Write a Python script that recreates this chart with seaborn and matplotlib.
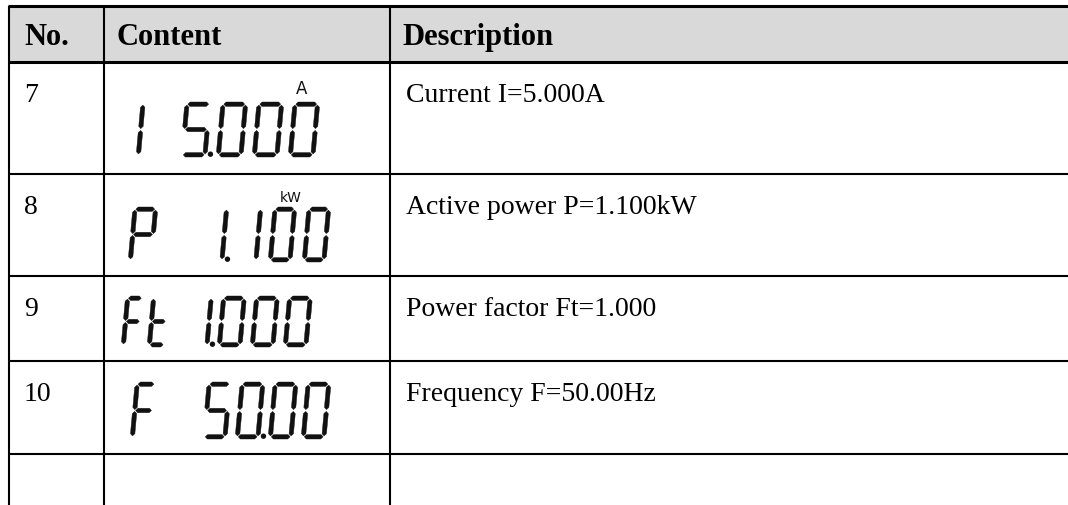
import matplotlib
matplotlib.use("Agg")
import matplotlib.pyplot as plt
from matplotlib.patches import Polygon, Rectangle, Circle
import seaborn as sns

# ---------------- data ----------------
headers = ["No.", "Content", "Description"]
row_numbers = ["7", "8", "9", "10", ""]
lcd_labels = ["I", "P", "Ft", "F"]
lcd_values = ["5.000", "1.100", "1.000", "50.00"]
lcd_units = ["A", "kW", "", ""]
descriptions = ["Current I=5.000A", "Active power P=1.100kW",
                "Power factor Ft=1.000", "Frequency F=50.00Hz", ""]

# ---------------- style ----------------
sns.set_theme(style="white")
plt.rcParams["font.family"] = ["Liberation Serif", "DejaVu Serif"]

W_PX, H_PX = 1068, 506
fig = plt.figure(figsize=(W_PX / 100, H_PX / 100), dpi=100)
ax = fig.add_axes([0, 0, 1, 1])
ax.set_xlim(0, W_PX)
ax.set_ylim(H_PX, 0)
ax.axis("off")

# table layout (pixels)
col_x = [9, 104, 390]
row_y = [7, 63, 175, 277, 362, 455]
header_fill = "#d9d9d9"
thick = 2.2
thin = 1.5

ax.add_patch(Rectangle((col_x[0], row_y[0]), W_PX - col_x[0], row_y[1] - row_y[0],
                       facecolor=header_fill, edgecolor="none", zorder=0))
for i, y in enumerate(row_y):
    ax.plot([col_x[0] - 1, W_PX], [y, y], color="black",
            lw=thick if i < 2 else thin, solid_capstyle="butt", zorder=3)
for x in col_x:
    ax.plot([x, x], [row_y[0], H_PX], color="black", lw=thin,
            solid_capstyle="butt", zorder=3)

# header text
pad = [15, 12, 12]
for j, h in enumerate(headers):
    ax.text(col_x[j] + pad[j], 45, h, fontsize=22, fontweight="bold",
            color="black", va="baseline", ha="left")

# body text
for i, num in enumerate(row_numbers):
    base = row_y[i + 1] + 39
    if num:
        ax.text(col_x[0] + pad[0], base, num, fontsize=20, color="black",
                va="baseline", ha="left")
    if descriptions[i]:
        ax.text(col_x[2] + 16, base, descriptions[i], fontsize=20, color="black",
                va="baseline", ha="left")

# ---------------- seven segment LCD ----------------
SEGS = {"0": "abcdef", "1": "bc", "5": "afgcd", "P": "abefg",
        "F": "aefg", "t": "defg", "I": "ef", " ": ""}
SLANT = 0.09
T = 4.4
GAP = 0.9


def seg_polys(segs, W, H, t):
    uL, uR = t / 2, W - t / 2
    vB, vM, vT = t / 2, H / 2, H - t / 2
    out = []

    def hor(vc, u1, u2):
        return [(u1 + GAP, vc), (u1 + GAP + t / 2, vc + t / 2),
                (u2 - GAP - t / 2, vc + t / 2), (u2 - GAP, vc),
                (u2 - GAP - t / 2, vc - t / 2), (u1 + GAP + t / 2, vc - t / 2)]

    def ver(uc, v1, v2):
        return [(uc, v1 + GAP), (uc + t / 2, v1 + GAP + t / 2),
                (uc + t / 2, v2 - GAP - t / 2), (uc, v2 - GAP),
                (uc - t / 2, v2 - GAP - t / 2), (uc - t / 2, v1 + GAP + t / 2)]

    table = {"a": hor(vT, uL, uR), "d": hor(vB, uL, uR), "g": hor(vM, uL, uR),
             "b": ver(uR, vM, vT), "c": ver(uR, vB, vM),
             "e": ver(uL, vB, vM), "f": ver(uL, vM, vT)}
    for s in segs:
        out.append(table[s])
    return out


def draw_glyph(ch, x, y_top, W, H, dot=False):
    for poly in seg_polys(SEGS[ch], W, H, T):
        pts = [(x + u + SLANT * v, y_top + H - v) for (u, v) in poly]
        ax.add_patch(Polygon(pts, closed=True, facecolor="#111111",
                             edgecolor="#111111", lw=0.3, zorder=4))
    if dot:
        v = 2.8
        ax.add_patch(Circle((x + W + 3.2 + SLANT * v, y_top + H - v), 2.7,
                            facecolor="#111111", edgecolor="none", zorder=4))


def parse_value(s):
    cells = []
    for ch in s:
        if ch == "." and cells:
            cells[-1][1] = True
        else:
            cells.append([ch, False])
    return cells


# per-row LCD layout: prefix x, letter pitch, letter width,
# last digit x, digit pitch, digit width, top y, height, unit centre
lcd_layout = [
    dict(px=136, lp=25, lw=14, xl=288, dp=36, dw=27, top=103, h=55, ux=302, uy=89, us=12),
    dict(px=128, lp=25, lw=25, xl=302, dp=34, dw=24, top=208, h=55, ux=291, uy=198, us=10),
    dict(px=121, lp=26, lw=19, xl=283, dp=33, dw=25, top=297, h=51, ux=0, uy=0, us=10),
    dict(px=130, lp=25, lw=22, xl=301, dp=33, dw=25, top=383, h=57, ux=0, uy=0, us=10),
]

for i, lay in enumerate(lcd_layout):
    for k, ch in enumerate(lcd_labels[i]):
        draw_glyph(ch, lay["px"] + k * lay["lp"], lay["top"], lay["lw"], lay["h"])
    cells = parse_value(lcd_values[i])
    n = len(cells)
    for k, (ch, dot) in enumerate(cells):
        x = lay["xl"] - (n - 1 - k) * lay["dp"]
        draw_glyph(ch, x, lay["top"], lay["dw"], lay["h"], dot)
    if lcd_units[i]:
        ax.text(lay["ux"], lay["uy"], lcd_units[i], fontsize=lay["us"],
                family=["Liberation Sans Narrow", "DejaVu Sans"],
                ha="center", va="center", color="#111111")

fig.savefig("out.png", dpi=100)
